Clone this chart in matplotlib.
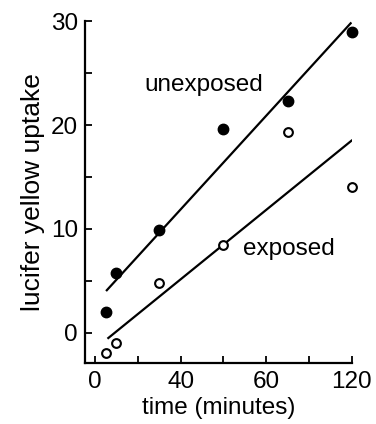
import numpy as np
import matplotlib
matplotlib.use("Agg")
import matplotlib.pyplot as plt

plt.rcParams['font.family'] = ['Liberation Sans', 'DejaVu Sans']

# time in minutes
time = [5, 10, 30, 60, 90, 120]
unexposed = [2.0, 5.8, 9.9, 19.6, 22.3, 29.0]
exposed = [-1.9, -1.0, 4.8, 8.5, 19.3, 14.0]

# fitted lines (start / end)
unexp_fit_x = [5.5, 119.4]
unexp_fit_y = [4.1, 29.8]
exp_fit_x = [6.2, 119.8]
exp_fit_y = [-0.5, 18.5]

xticks = [0, 20, 40, 60, 80, 100, 120]
xticklabels = ['0', '', '40', '', '60', '', '120']
yticks = [0, 5, 10, 15, 20, 25, 30]
yticklabels = ['0', '', '10', '', '20', '', '30']

fs = 17.5

fig = plt.figure(figsize=(3.76, 4.24), dpi=100)
ax = fig.add_axes([0.226, 0.144, 0.71, 0.806])

ax.plot(unexp_fit_x, unexp_fit_y, color='black', lw=1.6)
ax.plot(exp_fit_x, exp_fit_y, color='black', lw=1.6)
ax.plot(time, unexposed, 'o', color='black', ms=7.5, clip_on=False)
ax.plot(time, exposed, 'o', mfc='white', mec='black', mew=1.5, ms=6.3, clip_on=False)

ax.text(50.6, 23.9, 'unexposed', fontsize=fs, ha='center', va='center')
ax.text(90.7, 8.1, 'exposed', fontsize=fs, ha='center', va='center')

ax.set_xlim(-4.7, 120)
ax.set_ylim(-2.9, 30)
ax.set_xticks(xticks)
ax.set_xticklabels(xticklabels)
ax.set_yticks(yticks)
ax.set_yticklabels(yticklabels)
ax.tick_params(direction='in', length=5, width=1.3, labelsize=fs)
ax.tick_params(axis='y', pad=5)
ax.tick_params(axis='x', pad=6)

for s in ['top', 'right']:
    ax.spines[s].set_visible(False)
for s in ['left', 'bottom']:
    ax.spines[s].set_linewidth(1.6)

ax.set_xlabel('time (minutes)', fontsize=fs, labelpad=3)
ax.set_ylabel('lucifer yellow uptake', fontsize=19, labelpad=4)

plt.savefig('out.png', dpi=100)
